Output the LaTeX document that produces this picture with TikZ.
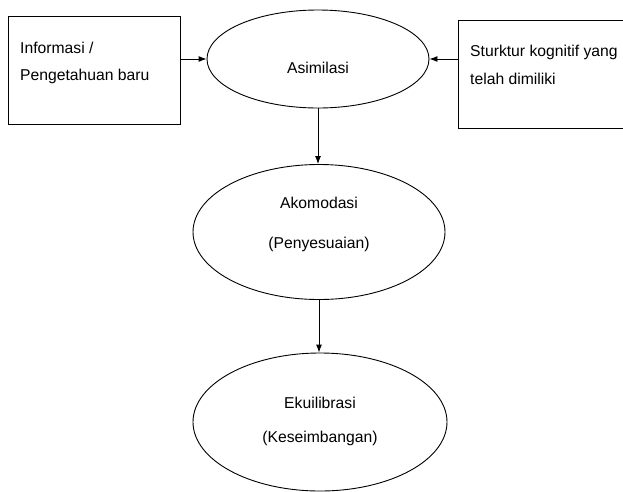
\documentclass[tikz,border=0pt]{standalone}
\usepackage{fontspec}
\setmainfont{Liberation Sans}
\usetikzlibrary{shapes.geometric,arrows.meta}
\begin{document}
\begin{tikzpicture}[x=1pt,y=-1pt,
  box/.style={draw,line width=0.9pt,inner sep=0pt},
  oval/.style={draw,ellipse,line width=0.9pt,inner sep=0pt},
  txt/.style={font=\fontsize{15.7}{18}\selectfont,inner sep=0pt,anchor=base west},
  ctxt/.style={font=\fontsize{15.7}{18}\selectfont,inner sep=0pt,anchor=base},
  arr/.style={-{Latex[length=8pt,width=6pt]},line width=0.9pt}]
\useasboundingbox (0,0) rectangle (623,491);
\node[box,minimum width=172pt,minimum height=108pt] (info) at (94,70) {};
\node[txt] (t1) at (20,53) {Informasi /};
\node[txt] (t2) at (20,80) {Pengetahuan baru};
\node[box,minimum width=180pt,minimum height=108pt] (struk) at (548,74) {};
\node[txt] (t3) at (470,56) {Sturktur kognitif yang};
\node[txt] (t4) at (470,84) {telah dimiliki};
\node[oval,minimum width=222pt,minimum height=98pt] (asim) at (318,59) {};
\node[ctxt] (a1) at (318,73) {Asimilasi};
\node[oval,minimum width=252pt,minimum height=135pt] (akom) at (319,232) {};
\node[ctxt] (k1) at (319,208) {Akomodasi};
\node[ctxt] (k2) at (319,248) {(Penyesuaian)};
\node[oval,minimum width=254pt,minimum height=138pt] (ekui) at (320,422) {};
\node[ctxt] (e1) at (320,408) {Ekuilibrasi};
\node[ctxt] (e2) at (320,442) {(Keseimbangan)};
\draw[arr] (info.east |- asim.west) -- (asim.west);
\draw[arr] (struk.west |- asim.east) -- (asim.east);
\draw[arr] (asim.south) -- (asim.south |- akom.north);
\draw[arr] (akom.south) -- (akom.south |- ekui.north);
\end{tikzpicture}
\end{document}
